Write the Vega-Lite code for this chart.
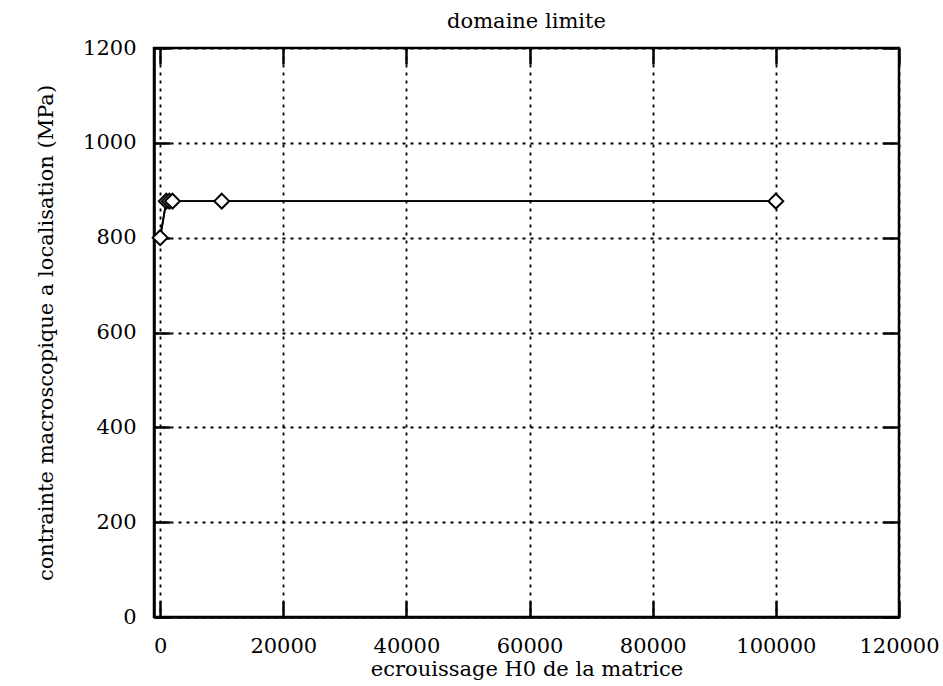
{
  "$schema": "https://vega.github.io/schema/vega-lite/v6.json",
  "autosize": "none",
  "width": 745,
  "height": 569,
  "padding": {"left": 154, "top": 48, "right": 44, "bottom": 69},
  "background": "white",
  "title": {"text": "domaine limite", "font": "DejaVu Serif", "fontSize": 21, "fontWeight": "normal", "color": "black", "offset": 5},
  "config": {
    "view": {"stroke": "black", "strokeWidth": 2.5},
    "axis": {
      "labelFont": "DejaVu Serif", "labelFontSize": 21, "labelColor": "black",
      "titleFont": "DejaVu Serif", "titleFontSize": 21, "titleFontWeight": "normal", "titleColor": "black",
      "domainColor": "black", "domainWidth": 2.5,
      "tickColor": "black", "tickWidth": 2.5,
      "gridColor": "black", "gridDash": [3, 5], "gridWidth": 1.8, "gridOpacity": 1
    }
  },
  "data": {"values": [
    {"h0": 0, "sigma": 800},
    {"h0": 1000, "sigma": 877},
    {"h0": 1500, "sigma": 877},
    {"h0": 2000, "sigma": 877},
    {"h0": 10000, "sigma": 877},
    {"h0": 100000, "sigma": 877}
  ]},
  "layer": [
    {
      "mark": {"type": "line", "color": "black", "strokeWidth": 1.8},
      "encoding": {
        "x": {"field": "h0", "type": "quantitative", "scale": {"domain": [-1000, 120000], "nice": false, "zero": false},
          "axis": {"orient": "bottom", "title": "ecrouissage H0 de la matrice", "values": [0, 20000, 40000, 60000, 80000, 100000, 120000], "grid": true, "format": "d", "tickSize": 0, "labelPadding": 18, "titlePadding": 2, "labelFlush": false}},
        "y": {"field": "sigma", "type": "quantitative", "scale": {"domain": [0, 1200], "nice": false},
          "axis": {"orient": "left", "title": "contrainte macroscopique a localisation (MPa)", "values": [0, 200, 400, 600, 800, 1000, 1200], "grid": true, "tickSize": 0, "labelPadding": 18, "titlePadding": 26, "format": "d"}}
      }
    },
    {
      "mark": {"type": "line", "color": "black", "strokeWidth": 1.8},
      "encoding": {
        "x": {"field": "h0", "type": "quantitative",
          "axis": {"orient": "bottom", "title": null, "labels": false, "grid": false, "domain": false, "tickSize": 16, "offset": -16, "values": [0, 20000, 40000, 60000, 80000, 100000, 120000]}},
        "y": {"field": "sigma", "type": "quantitative",
          "axis": {"orient": "left", "title": null, "labels": false, "grid": false, "domain": false, "tickSize": 16, "offset": -16, "values": [0, 200, 400, 600, 800, 1000, 1200]}}
      }
    },
    {
      "mark": {"type": "point", "shape": "diamond", "size": 220, "filled": true, "fill": "white", "stroke": "black", "strokeWidth": 2, "opacity": 1},
      "encoding": {
        "x": {"field": "h0", "type": "quantitative",
          "axis": {"orient": "top", "title": null, "labels": false, "grid": false, "domain": false, "tickSize": 16, "offset": -16, "values": [0, 20000, 40000, 60000, 80000, 100000, 120000]}},
        "y": {"field": "sigma", "type": "quantitative",
          "axis": {"orient": "right", "title": null, "labels": false, "grid": false, "domain": false, "tickSize": 16, "offset": -16, "values": [0, 200, 400, 600, 800, 1000, 1200]}}
      }
    }
  ],
  "resolve": {"axis": {"x": "independent", "y": "independent"}}
}
